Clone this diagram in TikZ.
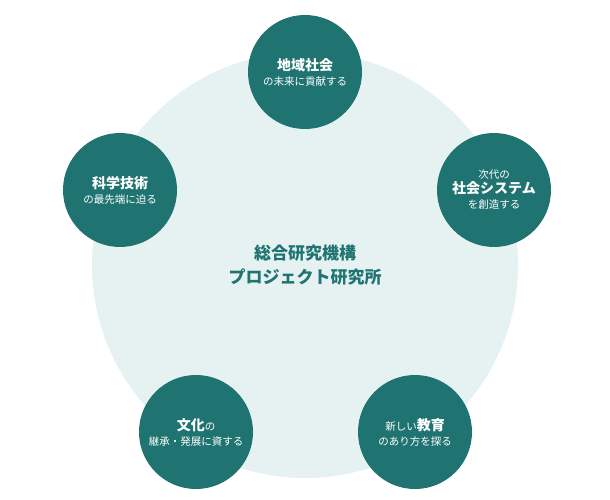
\documentclass[tikz,border=0pt]{standalone}
\usepackage{fontspec}
\newfontfamily\jp{Noto Sans CJK JP}
\definecolor{teal1}{HTML}{1F7471}
\definecolor{pale}{HTML}{E6F2F1}
\begin{document}
\begin{tikzpicture}[x=1pt,y=-1pt,
  topic/.style={circle,fill=teal1,minimum size=114pt,inner sep=0pt,text=white,align=center,font=\jp\fontsize{10.5}{15}\selectfont},
  big/.style={font=\jp\bfseries\fontsize{14}{16}\selectfont}]
\useasboundingbox (0,0) rectangle (610,500);
\node[circle,fill=pale,minimum size=426pt,inner sep=0pt] (bg) at (305,265) {};
\node[text=teal1,align=center,font=\jp\bfseries\fontsize{17}{24}\selectfont] (c) at (305,265) {総合研究機構\\プロジェクト研究所};
\node[topic] (t1) at (305,72) {{\jp\bfseries\fontsize{14}{16}\selectfont 地域社会}\\の未来に貢献する};
\node[topic] (t2) at (494,190) {次代の\\{\jp\bfseries\fontsize{14}{16}\selectfont 社会システム}\\を創造する};
\node[topic] (t3) at (415,432) {新しい{\jp\bfseries\fontsize{14}{16}\selectfont 教育}\\のあり方を探る};
\node[topic] (t4) at (196,432) {{\jp\bfseries\fontsize{14}{16}\selectfont 文化}の\\継承・発展に資する};
\node[topic] (t5) at (120,190) {{\jp\bfseries\fontsize{14}{16}\selectfont 科学技術}\\の最先端に迫る};
\end{tikzpicture}
\end{document}
